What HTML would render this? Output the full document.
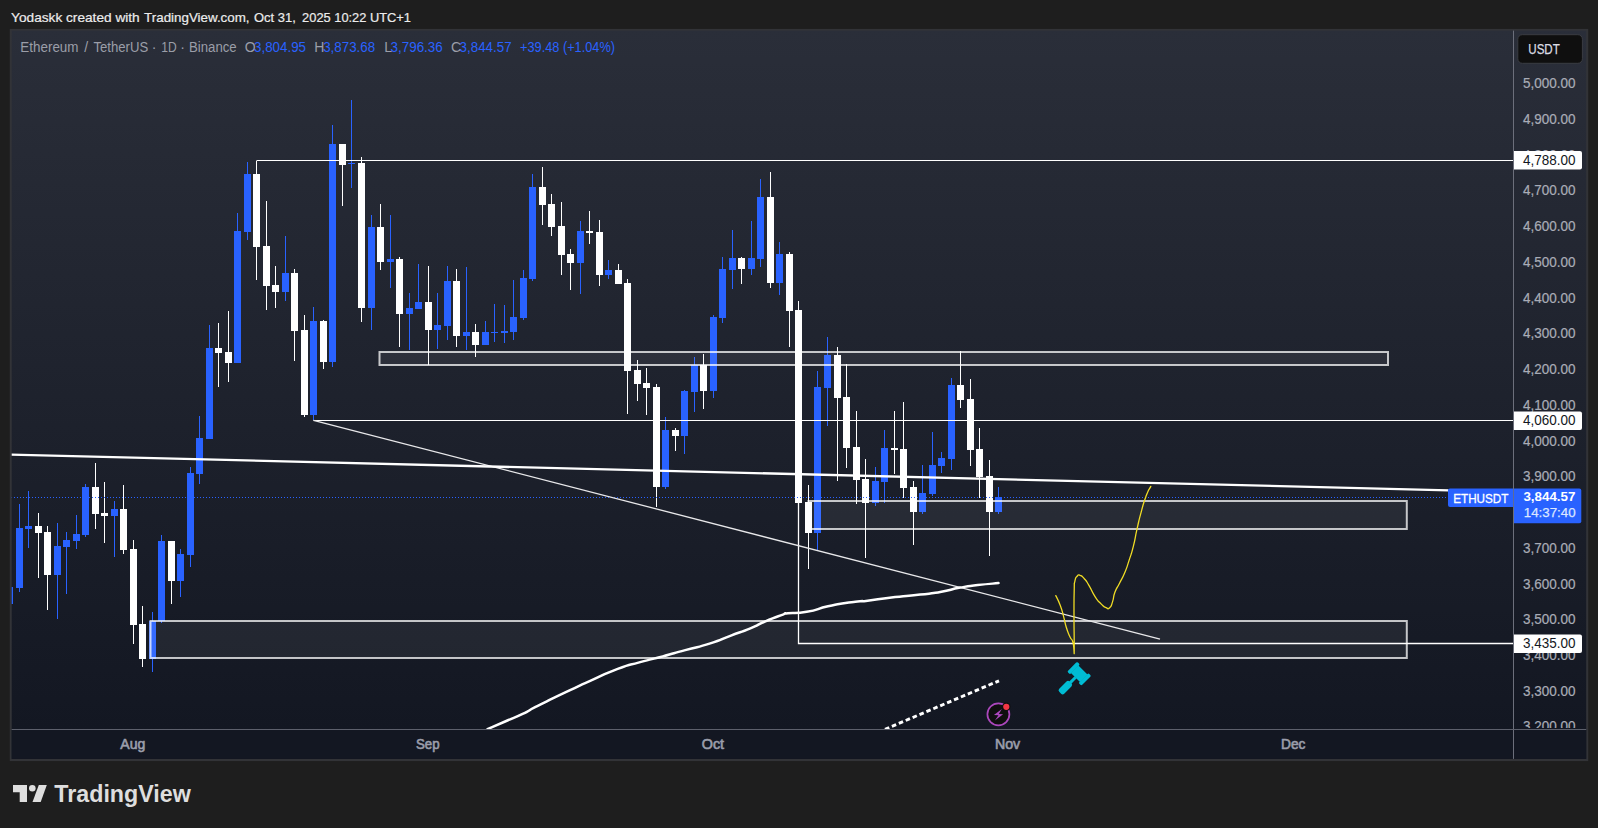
<!DOCTYPE html>
<html lang="en">
<head>
<meta charset="utf-8">
<title>ETHUSDT chart - TradingView snapshot</title>
<style>
html,body{margin:0;padding:0;background:#1e1e1e;}
body{width:1598px;height:828px;overflow:hidden;position:relative;font-family:'Liberation Sans', Arial, sans-serif;}
svg{position:absolute;left:0;top:0;display:block;}
svg text{font-family:'Liberation Sans', Arial, sans-serif;}
</style>
</head>
<body>
<svg width="1598" height="828" viewBox="0 0 1598 828">
<defs>
<linearGradient id="bg" x1="0" y1="30" x2="0" y2="730" gradientUnits="userSpaceOnUse">
<stop offset="0" stop-color="#2a2e39"/><stop offset="1" stop-color="#131722"/>
</linearGradient>
<clipPath id="pane"><rect x="11.7" y="30.6" width="1501.3" height="698.9"/></clipPath>
<clipPath id="paxis"><rect x="1514" y="30.5" width="73" height="697.6"/></clipPath>
</defs>
<rect x="0" y="0" width="1598" height="828" fill="#1e1e1e"/>
<!-- chart frame -->
<rect x="9.8" y="28.9" width="1578.4" height="732.2" fill="#323337"/>
<rect x="11.7" y="30.6" width="1574.5" height="728.3" fill="url(#bg)"/>
<rect x="11.7" y="730" width="1574.5" height="28.9" fill="#131722"/>

<g clip-path="url(#pane)">
<!-- candles -->
<g shape-rendering="crispEdges">
<rect x="9" y="587" width="1" height="17" fill="#2962ff"/><rect x="6" y="587" width="7" height="17" fill="#2962ff"/>
<rect x="19" y="504" width="1" height="88" fill="#2962ff"/><rect x="16" y="528" width="7" height="60" fill="#2962ff"/>
<rect x="28" y="491" width="1" height="57" fill="#2962ff"/><rect x="25" y="526" width="7" height="3" fill="#2962ff"/>
<rect x="38" y="513" width="1" height="65" fill="#ffffff"/><rect x="35" y="526" width="7" height="7" fill="#ffffff"/>
<rect x="47" y="526" width="1" height="84" fill="#ffffff"/><rect x="44" y="532" width="7" height="43" fill="#ffffff"/>
<rect x="57" y="523" width="1" height="96" fill="#2962ff"/><rect x="54" y="546" width="7" height="29" fill="#2962ff"/>
<rect x="66" y="532" width="1" height="62" fill="#2962ff"/><rect x="63" y="540" width="7" height="7" fill="#2962ff"/>
<rect x="76" y="515" width="1" height="34" fill="#2962ff"/><rect x="73" y="534" width="7" height="7" fill="#2962ff"/>
<rect x="85" y="484" width="1" height="53" fill="#2962ff"/><rect x="82" y="487" width="7" height="48" fill="#2962ff"/>
<rect x="95" y="463" width="1" height="66" fill="#ffffff"/><rect x="92" y="487" width="7" height="27" fill="#ffffff"/>
<rect x="104" y="482" width="1" height="61" fill="#ffffff"/><rect x="101" y="513" width="7" height="3" fill="#ffffff"/>
<rect x="114" y="501" width="1" height="56" fill="#2962ff"/><rect x="111" y="509" width="7" height="7" fill="#2962ff"/>
<rect x="123" y="485" width="1" height="69" fill="#ffffff"/><rect x="120" y="509" width="7" height="41" fill="#ffffff"/>
<rect x="133" y="540" width="1" height="104" fill="#ffffff"/><rect x="130" y="549" width="7" height="76" fill="#ffffff"/>
<rect x="142" y="606" width="1" height="61" fill="#ffffff"/><rect x="139" y="624" width="7" height="35" fill="#ffffff"/>
<rect x="152" y="612" width="1" height="60" fill="#2962ff"/><rect x="149" y="621" width="7" height="38" fill="#2962ff"/>
<rect x="161" y="535" width="1" height="88" fill="#2962ff"/><rect x="158" y="541" width="7" height="80" fill="#2962ff"/>
<rect x="171" y="541" width="1" height="63" fill="#ffffff"/><rect x="168" y="541" width="7" height="40" fill="#ffffff"/>
<rect x="180" y="549" width="1" height="48" fill="#2962ff"/><rect x="177" y="554" width="7" height="27" fill="#2962ff"/>
<rect x="190" y="467" width="1" height="100" fill="#2962ff"/><rect x="187" y="473" width="7" height="82" fill="#2962ff"/>
<rect x="199" y="416" width="1" height="68" fill="#2962ff"/><rect x="196" y="438" width="7" height="36" fill="#2962ff"/>
<rect x="209" y="325" width="1" height="114" fill="#2962ff"/><rect x="206" y="348" width="7" height="91" fill="#2962ff"/>
<rect x="218" y="323" width="1" height="64" fill="#ffffff"/><rect x="215" y="348" width="7" height="5" fill="#ffffff"/>
<rect x="228" y="311" width="1" height="71" fill="#ffffff"/><rect x="225" y="352" width="7" height="11" fill="#ffffff"/>
<rect x="237" y="213" width="1" height="150" fill="#2962ff"/><rect x="234" y="231" width="7" height="132" fill="#2962ff"/>
<rect x="247" y="162" width="1" height="78" fill="#2962ff"/><rect x="244" y="174" width="7" height="58" fill="#2962ff"/>
<rect x="256" y="161" width="1" height="119" fill="#ffffff"/><rect x="253" y="174" width="7" height="73" fill="#ffffff"/>
<rect x="266" y="201" width="1" height="109" fill="#ffffff"/><rect x="263" y="246" width="7" height="40" fill="#ffffff"/>
<rect x="275" y="266" width="1" height="42" fill="#ffffff"/><rect x="272" y="285" width="7" height="7" fill="#ffffff"/>
<rect x="285" y="236" width="1" height="65" fill="#2962ff"/><rect x="282" y="273" width="7" height="19" fill="#2962ff"/>
<rect x="294" y="269" width="1" height="92" fill="#ffffff"/><rect x="291" y="273" width="7" height="58" fill="#ffffff"/>
<rect x="304" y="315" width="1" height="102" fill="#ffffff"/><rect x="301" y="330" width="7" height="85" fill="#ffffff"/>
<rect x="313" y="307" width="1" height="113" fill="#2962ff"/><rect x="310" y="321" width="7" height="94" fill="#2962ff"/>
<rect x="323" y="320" width="1" height="49" fill="#ffffff"/><rect x="320" y="321" width="7" height="41" fill="#ffffff"/>
<rect x="332" y="125" width="1" height="242" fill="#2962ff"/><rect x="329" y="144" width="7" height="218" fill="#2962ff"/>
<rect x="342" y="144" width="1" height="62" fill="#ffffff"/><rect x="339" y="144" width="7" height="21" fill="#ffffff"/>
<rect x="351" y="100" width="1" height="88" fill="#2962ff"/><rect x="348" y="163" width="7" height="1" fill="#2962ff"/>
<rect x="361" y="157" width="1" height="165" fill="#ffffff"/><rect x="358" y="163" width="7" height="145" fill="#ffffff"/>
<rect x="371" y="215" width="1" height="115" fill="#2962ff"/><rect x="368" y="227" width="7" height="81" fill="#2962ff"/>
<rect x="380" y="204" width="1" height="66" fill="#ffffff"/><rect x="377" y="227" width="7" height="35" fill="#ffffff"/>
<rect x="390" y="215" width="1" height="73" fill="#2962ff"/><rect x="387" y="259" width="7" height="3" fill="#2962ff"/>
<rect x="399" y="257" width="1" height="90" fill="#ffffff"/><rect x="396" y="259" width="7" height="55" fill="#ffffff"/>
<rect x="409" y="293" width="1" height="57" fill="#2962ff"/><rect x="406" y="308" width="7" height="6" fill="#2962ff"/>
<rect x="418" y="264" width="1" height="45" fill="#2962ff"/><rect x="415" y="302" width="7" height="7" fill="#2962ff"/>
<rect x="428" y="266" width="1" height="99" fill="#ffffff"/><rect x="425" y="302" width="7" height="28" fill="#ffffff"/>
<rect x="437" y="293" width="1" height="56" fill="#2962ff"/><rect x="434" y="325" width="7" height="5" fill="#2962ff"/>
<rect x="447" y="266" width="1" height="74" fill="#2962ff"/><rect x="444" y="281" width="7" height="45" fill="#2962ff"/>
<rect x="456" y="269" width="1" height="78" fill="#ffffff"/><rect x="453" y="281" width="7" height="55" fill="#ffffff"/>
<rect x="466" y="267" width="1" height="83" fill="#2962ff"/><rect x="463" y="332" width="7" height="4" fill="#2962ff"/>
<rect x="475" y="324" width="1" height="33" fill="#ffffff"/><rect x="472" y="332" width="7" height="13" fill="#ffffff"/>
<rect x="485" y="321" width="1" height="24" fill="#2962ff"/><rect x="482" y="332" width="7" height="13" fill="#2962ff"/>
<rect x="494" y="304" width="1" height="38" fill="#2962ff"/><rect x="491" y="332" width="7" height="1" fill="#2962ff"/>
<rect x="504" y="305" width="1" height="38" fill="#2962ff"/><rect x="501" y="331" width="7" height="2" fill="#2962ff"/>
<rect x="513" y="280" width="1" height="60" fill="#2962ff"/><rect x="510" y="317" width="7" height="15" fill="#2962ff"/>
<rect x="523" y="270" width="1" height="50" fill="#2962ff"/><rect x="520" y="278" width="7" height="40" fill="#2962ff"/>
<rect x="532" y="174" width="1" height="107" fill="#2962ff"/><rect x="529" y="187" width="7" height="92" fill="#2962ff"/>
<rect x="542" y="167" width="1" height="58" fill="#ffffff"/><rect x="539" y="187" width="7" height="18" fill="#ffffff"/>
<rect x="551" y="194" width="1" height="42" fill="#ffffff"/><rect x="548" y="204" width="7" height="23" fill="#ffffff"/>
<rect x="561" y="202" width="1" height="73" fill="#ffffff"/><rect x="558" y="226" width="7" height="29" fill="#ffffff"/>
<rect x="570" y="249" width="1" height="41" fill="#ffffff"/><rect x="567" y="254" width="7" height="9" fill="#ffffff"/>
<rect x="580" y="221" width="1" height="73" fill="#2962ff"/><rect x="577" y="231" width="7" height="32" fill="#2962ff"/>
<rect x="589" y="211" width="1" height="33" fill="#ffffff"/><rect x="586" y="231" width="7" height="2" fill="#ffffff"/>
<rect x="599" y="220" width="1" height="66" fill="#ffffff"/><rect x="596" y="232" width="7" height="43" fill="#ffffff"/>
<rect x="608" y="260" width="1" height="19" fill="#2962ff"/><rect x="605" y="270" width="7" height="5" fill="#2962ff"/>
<rect x="618" y="264" width="1" height="20" fill="#ffffff"/><rect x="615" y="270" width="7" height="14" fill="#ffffff"/>
<rect x="627" y="279" width="1" height="135" fill="#ffffff"/><rect x="624" y="283" width="7" height="88" fill="#ffffff"/>
<rect x="637" y="360" width="1" height="41" fill="#ffffff"/><rect x="634" y="370" width="7" height="14" fill="#ffffff"/>
<rect x="646" y="368" width="1" height="47" fill="#ffffff"/><rect x="643" y="383" width="7" height="5" fill="#ffffff"/>
<rect x="656" y="384" width="1" height="123" fill="#ffffff"/><rect x="653" y="387" width="7" height="100" fill="#ffffff"/>
<rect x="665" y="417" width="1" height="72" fill="#2962ff"/><rect x="662" y="430" width="7" height="57" fill="#2962ff"/>
<rect x="675" y="428" width="1" height="23" fill="#ffffff"/><rect x="672" y="430" width="7" height="6" fill="#ffffff"/>
<rect x="684" y="390" width="1" height="64" fill="#2962ff"/><rect x="681" y="391" width="7" height="45" fill="#2962ff"/>
<rect x="694" y="357" width="1" height="55" fill="#2962ff"/><rect x="691" y="365" width="7" height="27" fill="#2962ff"/>
<rect x="703" y="354" width="1" height="55" fill="#ffffff"/><rect x="700" y="365" width="7" height="26" fill="#ffffff"/>
<rect x="713" y="315" width="1" height="83" fill="#2962ff"/><rect x="710" y="317" width="7" height="74" fill="#2962ff"/>
<rect x="722" y="257" width="1" height="66" fill="#2962ff"/><rect x="719" y="269" width="7" height="49" fill="#2962ff"/>
<rect x="732" y="230" width="1" height="59" fill="#2962ff"/><rect x="729" y="258" width="7" height="12" fill="#2962ff"/>
<rect x="741" y="257" width="1" height="27" fill="#ffffff"/><rect x="738" y="258" width="7" height="11" fill="#ffffff"/>
<rect x="751" y="221" width="1" height="54" fill="#2962ff"/><rect x="748" y="258" width="7" height="11" fill="#2962ff"/>
<rect x="760" y="179" width="1" height="88" fill="#2962ff"/><rect x="757" y="197" width="7" height="62" fill="#2962ff"/>
<rect x="770" y="172" width="1" height="116" fill="#ffffff"/><rect x="767" y="197" width="7" height="86" fill="#ffffff"/>
<rect x="779" y="242" width="1" height="53" fill="#2962ff"/><rect x="776" y="254" width="7" height="29" fill="#2962ff"/>
<rect x="789" y="252" width="1" height="95" fill="#ffffff"/><rect x="786" y="254" width="7" height="57" fill="#ffffff"/>
<rect x="798" y="301" width="1" height="342" fill="#ffffff"/><rect x="795" y="310" width="7" height="193" fill="#ffffff"/>
<rect x="808" y="485" width="1" height="84" fill="#ffffff"/><rect x="805" y="502" width="7" height="31" fill="#ffffff"/>
<rect x="817" y="371" width="1" height="179" fill="#2962ff"/><rect x="814" y="387" width="7" height="146" fill="#2962ff"/>
<rect x="827" y="337" width="1" height="89" fill="#2962ff"/><rect x="824" y="355" width="7" height="33" fill="#2962ff"/>
<rect x="837" y="347" width="1" height="134" fill="#ffffff"/><rect x="834" y="355" width="7" height="43" fill="#ffffff"/>
<rect x="846" y="364" width="1" height="104" fill="#ffffff"/><rect x="843" y="397" width="7" height="51" fill="#ffffff"/>
<rect x="856" y="411" width="1" height="93" fill="#ffffff"/><rect x="853" y="447" width="7" height="33" fill="#ffffff"/>
<rect x="865" y="459" width="1" height="99" fill="#ffffff"/><rect x="862" y="479" width="7" height="24" fill="#ffffff"/>
<rect x="875" y="467" width="1" height="39" fill="#2962ff"/><rect x="872" y="481" width="7" height="22" fill="#2962ff"/>
<rect x="884" y="430" width="1" height="73" fill="#2962ff"/><rect x="881" y="448" width="7" height="34" fill="#2962ff"/>
<rect x="894" y="411" width="1" height="63" fill="#ffffff"/><rect x="891" y="448" width="7" height="2" fill="#ffffff"/>
<rect x="903" y="402" width="1" height="96" fill="#ffffff"/><rect x="900" y="449" width="7" height="39" fill="#ffffff"/>
<rect x="913" y="481" width="1" height="64" fill="#ffffff"/><rect x="910" y="487" width="7" height="25" fill="#ffffff"/>
<rect x="922" y="465" width="1" height="49" fill="#2962ff"/><rect x="919" y="493" width="7" height="19" fill="#2962ff"/>
<rect x="932" y="432" width="1" height="64" fill="#2962ff"/><rect x="929" y="465" width="7" height="29" fill="#2962ff"/>
<rect x="941" y="452" width="1" height="21" fill="#2962ff"/><rect x="938" y="458" width="7" height="8" fill="#2962ff"/>
<rect x="951" y="378" width="1" height="92" fill="#2962ff"/><rect x="948" y="385" width="7" height="74" fill="#2962ff"/>
<rect x="960" y="351" width="1" height="57" fill="#ffffff"/><rect x="957" y="385" width="7" height="15" fill="#ffffff"/>
<rect x="970" y="379" width="1" height="87" fill="#ffffff"/><rect x="967" y="399" width="7" height="51" fill="#ffffff"/>
<rect x="979" y="428" width="1" height="70" fill="#ffffff"/><rect x="976" y="449" width="7" height="28" fill="#ffffff"/>
<rect x="989" y="460" width="1" height="96" fill="#ffffff"/><rect x="986" y="476" width="7" height="36" fill="#ffffff"/>
<rect x="998" y="487" width="1" height="27" fill="#2962ff"/><rect x="995" y="497" width="7" height="15" fill="#2962ff"/>
</g>
<!-- price dotted line -->
<line x1="11" y1="497.5" x2="1448" y2="497.5" stroke="#2962ff" stroke-width="1" stroke-dasharray="1 2" shape-rendering="crispEdges"/>
<!-- zones -->
<rect x="379.5" y="352" width="1008.5" height="13" fill="rgba(255,255,255,0.06)" stroke="rgba(255,255,255,0.74)" stroke-width="2"/>
<rect x="808.5" y="501" width="598.3" height="28" fill="rgba(255,255,255,0.06)" stroke="rgba(255,255,255,0.74)" stroke-width="2"/>
<rect x="150.5" y="621" width="1256.3" height="37" fill="rgba(255,255,255,0.06)" stroke="rgba(255,255,255,0.74)" stroke-width="2"/>
<!-- horizontal rays -->
<line x1="256.5" y1="160.5" x2="1513" y2="160.5" stroke="#fff" stroke-width="1.2"/>
<line x1="313.5" y1="420.5" x2="1513" y2="420.5" stroke="#fff" stroke-width="1.2"/>
<path d="M798.5,503 L798.5,643.5 L1513,643.5" fill="none" stroke="#fff" stroke-width="1.3"/>
<!-- trend lines -->
<line x1="313.5" y1="420.3" x2="1160" y2="639.1" stroke="#e8e8ea" stroke-width="1.3"/>
<line x1="11" y1="454.6" x2="1448.5" y2="490.3" stroke="#fff" stroke-width="2.3"/>
<!-- moving average -->
<path d="M487.5,729.2 C493.4,726.6 493.4,726.6 505.1,721.5 C516.8,716.4 512.6,718.7 522.6,713.9 C532.6,709.1 525.9,711.9 535.1,707.2 C544.3,702.5 538.4,705.4 550.1,699.7 C561.8,694.0 556.7,696.5 570.1,690.2 C583.5,683.9 574.3,688.0 590.2,680.9 C606.1,673.8 601.0,675.2 617.7,668.9 C634.4,662.6 625.2,666.3 640.2,662.1 C655.2,657.9 647.8,660.4 662.8,656.4 C677.8,652.4 669.5,654.4 685.3,650.1 C701.1,645.8 695.3,648.2 710.3,643.4 C725.3,638.6 716.9,640.8 730.3,635.8 C743.7,630.8 738.7,633.1 750.4,628.3 C762.1,623.5 754.6,625.9 765.4,621.3 C776.2,616.7 775.4,617.3 782.9,614.6 C790.4,611.9 780.0,614.2 787.9,613.3 C795.8,612.4 793.3,614.1 806.7,611.8 C820.1,609.5 815.1,609.2 828.0,606.3 C840.9,603.4 834.8,604.8 845.5,603.1 C856.2,601.4 852.6,602.1 860.0,601.3 C867.4,600.5 855.9,602.1 867.6,600.7 C879.3,599.3 877.7,599.1 895.2,597.1 C912.7,595.1 905.2,596.3 920.2,594.6 C935.2,592.9 926.8,594.2 940.2,591.9 C953.6,589.6 947.8,589.9 960.3,587.6 C972.8,585.3 965.1,586.6 977.8,585.1 C990.5,583.6 991.6,583.8 998.5,583.1" fill="none" stroke="#fff" stroke-width="2.5" stroke-linejoin="round" stroke-linecap="round"/>
<!-- dashed projection -->
<line x1="885" y1="729.3" x2="999" y2="680.8" stroke="#fff" stroke-width="2.9" stroke-dasharray="4.6 2.9"/>
<!-- yellow drawing -->
<path d="M1055.8,595.6 C1057.3,598.8 1057.5,598.1 1060.2,605.3 C1062.9,612.5 1061.8,610.1 1063.8,617.3 C1065.8,624.5 1064.2,620.5 1066.2,627.0 C1068.2,633.5 1067.6,631.5 1069.9,636.7 C1072.2,641.9 1071.6,637.1 1073.0,642.7 C1074.4,648.3 1073.8,650.0 1074.2,653.6 M1074.2,653.6 C1074.2,648.8 1074.3,652.0 1074.2,639.1 C1074.1,626.2 1074.0,631.0 1074.0,614.9 C1074.0,598.8 1073.9,602.1 1074.2,590.8 C1074.5,579.5 1073.9,585.9 1074.9,581.1 C1075.9,576.3 1075.4,578.2 1077.1,576.3 C1078.8,574.4 1077.6,574.5 1080.0,575.3 C1082.4,576.1 1081.2,575.2 1084.3,578.7 C1087.4,582.2 1085.6,579.9 1089.2,585.9 C1092.8,591.9 1091.2,590.7 1095.2,596.8 C1099.2,602.9 1097.7,600.5 1101.3,604.1 C1104.9,607.7 1103.3,606.5 1106.1,607.7 C1108.9,608.9 1107.5,609.7 1109.7,607.7 C1111.9,605.7 1110.8,606.8 1112.6,601.6 C1114.4,596.4 1112.7,598.0 1115.0,592.0 C1117.3,586.0 1116.2,589.9 1119.4,583.5 C1122.6,577.1 1121.5,580.3 1124.7,572.7 C1127.9,565.1 1126.1,569.5 1129.0,560.6 C1131.9,551.7 1130.7,556.6 1133.4,546.1 C1136.1,535.6 1134.4,540.5 1137.0,529.2 C1139.6,517.9 1138.1,523.2 1141.1,512.3 C1144.1,501.4 1142.7,505.2 1145.9,496.6 C1149.1,488.0 1149.2,489.8 1150.8,486.4" fill="none" stroke="#f0dc25" stroke-width="1.3" stroke-linejoin="round" stroke-linecap="round"/>
<!-- gavel icon -->
<g transform="translate(1079.2 673.7) rotate(45)" fill="#00bcd4">
<rect x="-6.4" y="-5.3" width="12.8" height="10.6"/>
<rect x="-10" y="-7" width="4" height="14" rx="1.3"/>
<rect x="6" y="-7" width="4" height="14" rx="1.3"/>
<rect x="-1.5" y="5" width="3" height="9"/>
<rect x="-3.5" y="12.3" width="7" height="14.6" rx="2.2"/>
</g>
<!-- event icon -->
<circle cx="998.4" cy="714.3" r="11" fill="#0f0f0f" stroke="#ab47bc" stroke-width="1.7"/>
<path d="M1001.9,709 L993.9,714.9 L998.5,715.2 L994.9,720.4 L1003.1,714.3 L998.8,714 Z" fill="#ab47bc"/>
<circle cx="1006.3" cy="706.8" r="4.2" fill="#0f0f0f"/>
<circle cx="1006.3" cy="706.8" r="3.1" fill="#f23645"/>
</g>

<!-- axis lines -->
<rect x="1513" y="30.6" width="1" height="728.3" fill="#6c6f7b"/>
<rect x="11.7" y="729" width="1574.5" height="1" fill="#5d606c"/>

<!-- price axis labels -->
<g clip-path="url(#paxis)" font-size="14.5" fill="#a9acb6" stroke="#a9acb6" stroke-width="0.2">
<text x="1523" y="88.2" textLength="52.5" lengthAdjust="spacingAndGlyphs">5,000.00</text>
<text x="1523" y="123.9" textLength="52.5" lengthAdjust="spacingAndGlyphs">4,900.00</text>
<text x="1523" y="159.7" textLength="52.5" lengthAdjust="spacingAndGlyphs">4,800.00</text>
<text x="1523" y="195.4" textLength="52.5" lengthAdjust="spacingAndGlyphs">4,700.00</text>
<text x="1523" y="231.1" textLength="52.5" lengthAdjust="spacingAndGlyphs">4,600.00</text>
<text x="1523" y="266.9" textLength="52.5" lengthAdjust="spacingAndGlyphs">4,500.00</text>
<text x="1523" y="302.6" textLength="52.5" lengthAdjust="spacingAndGlyphs">4,400.00</text>
<text x="1523" y="338.3" textLength="52.5" lengthAdjust="spacingAndGlyphs">4,300.00</text>
<text x="1523" y="374.1" textLength="52.5" lengthAdjust="spacingAndGlyphs">4,200.00</text>
<text x="1523" y="409.8" textLength="52.5" lengthAdjust="spacingAndGlyphs">4,100.00</text>
<text x="1523" y="445.6" textLength="52.5" lengthAdjust="spacingAndGlyphs">4,000.00</text>
<text x="1523" y="481.3" textLength="52.5" lengthAdjust="spacingAndGlyphs">3,900.00</text>
<text x="1523" y="517.0" textLength="52.5" lengthAdjust="spacingAndGlyphs">3,800.00</text>
<text x="1523" y="552.8" textLength="52.5" lengthAdjust="spacingAndGlyphs">3,700.00</text>
<text x="1523" y="588.5" textLength="52.5" lengthAdjust="spacingAndGlyphs">3,600.00</text>
<text x="1523" y="624.2" textLength="52.5" lengthAdjust="spacingAndGlyphs">3,500.00</text>
<text x="1523" y="660.0" textLength="52.5" lengthAdjust="spacingAndGlyphs">3,400.00</text>
<text x="1523" y="695.7" textLength="52.5" lengthAdjust="spacingAndGlyphs">3,300.00</text>
<text x="1523" y="731.4" textLength="52.5" lengthAdjust="spacingAndGlyphs">3,200.00</text>
</g>

<!-- USDT button -->
<rect x="1517.8" y="34.7" width="64.6" height="28.6" rx="4.5" fill="#0f0f0f" stroke="#3a3c42" stroke-width="1"/>
<text x="1528.3" y="53.8" font-size="14.6" fill="#dcdee3" stroke="#dcdee3" stroke-width="0.25" textLength="31.5" lengthAdjust="spacingAndGlyphs">USDT</text>

<!-- price tags -->
<path d="M1514,151 H1580 a2,2 0 0 1 2,2 V167.5 a2,2 0 0 1 -2,2 H1514 Z" fill="#fff"/>
<text x="1523" y="164.7" font-size="14.5" fill="#131722" textLength="52.5" lengthAdjust="spacingAndGlyphs">4,788.00</text>
<path d="M1514,411.5 H1580 a2,2 0 0 1 2,2 V428 a2,2 0 0 1 -2,2 H1514 Z" fill="#fff"/>
<text x="1523" y="425.1" font-size="14.5" fill="#131722" textLength="52.5" lengthAdjust="spacingAndGlyphs">4,060.00</text>
<path d="M1514,634.5 H1580 a2,2 0 0 1 2,2 V651 a2,2 0 0 1 -2,2 H1514 Z" fill="#fff"/>
<text x="1523" y="647.7" font-size="14.5" fill="#131722" textLength="52.5" lengthAdjust="spacingAndGlyphs">3,435.00</text>

<path d="M1450,488.5 H1513.2 V507 H1450 a2,2 0 0 1 -2,-2 V490.5 a2,2 0 0 1 2,-2 Z" fill="#2962ff"/>
<text x="1453.2" y="502.9" font-size="13.5" fill="#fff" stroke="#fff" stroke-width="0.3" textLength="55.2" lengthAdjust="spacingAndGlyphs">ETHUSDT</text>
<path d="M1514,488.5 H1579.3 a2,2 0 0 1 2,2 V521.2 a2,2 0 0 1 -2,2 H1514 Z" fill="#2962ff"/>
<text x="1523.4" y="501" font-size="13.5" font-weight="bold" fill="#fff" textLength="52" lengthAdjust="spacingAndGlyphs">3,844.57</text>
<text x="1523.8" y="517.4" font-size="13.5" fill="#dde6ff" stroke="#dde6ff" stroke-width="0.25" textLength="51.8" lengthAdjust="spacingAndGlyphs">14:37:40</text>

<!-- time axis labels -->
<g font-size="13.8" fill="#9b9eab" stroke="#9b9eab" stroke-width="0.6">
<text x="120.3" y="749" textLength="25" lengthAdjust="spacingAndGlyphs">Aug</text>
<text x="416" y="749" textLength="23.6" lengthAdjust="spacingAndGlyphs">Sep</text>
<text x="701.8" y="749" textLength="22.3" lengthAdjust="spacingAndGlyphs">Oct</text>
<text x="995" y="749" textLength="25.2" lengthAdjust="spacingAndGlyphs">Nov</text>
<text x="1281" y="749" textLength="24.4" lengthAdjust="spacingAndGlyphs">Dec</text>
</g>

<!-- legend -->
<g font-size="14">
<text x="20.3" y="52" fill="#9b9ea8" textLength="58.2" lengthAdjust="spacingAndGlyphs">Ethereum</text>
<text x="86.1" y="52" fill="#9b9ea8" text-anchor="middle">/</text>
<text x="93.5" y="52" fill="#9b9ea8" textLength="54.7" lengthAdjust="spacingAndGlyphs">TetherUS</text>
<text x="154.2" y="52" fill="#9b9ea8" text-anchor="middle">·</text>
<text x="161.2" y="52" fill="#9b9ea8" textLength="15.4" lengthAdjust="spacingAndGlyphs">1D</text>
<text x="182.6" y="52" fill="#9b9ea8" text-anchor="middle">·</text>
<text x="189.0" y="52" fill="#9b9ea8" textLength="47.7" lengthAdjust="spacingAndGlyphs">Binance</text>
<text x="244.8" y="52" fill="#9b9ea8">O</text>
<text x="254" y="52" fill="#2962ff" textLength="52" lengthAdjust="spacingAndGlyphs">3,804.95</text>
<text x="314.3" y="52" fill="#9b9ea8">H</text>
<text x="323.2" y="52" fill="#2962ff" textLength="52" lengthAdjust="spacingAndGlyphs">3,873.68</text>
<text x="384.2" y="52" fill="#9b9ea8">L</text>
<text x="390.5" y="52" fill="#2962ff" textLength="52.3" lengthAdjust="spacingAndGlyphs">3,796.36</text>
<text x="451" y="52" fill="#9b9ea8">C</text>
<text x="459.6" y="52" fill="#2962ff" textLength="52" lengthAdjust="spacingAndGlyphs">3,844.57</text>
<text x="520" y="52" fill="#2962ff" textLength="95" lengthAdjust="spacingAndGlyphs">+39.48 (+1.04%)</text>
</g>

<!-- header -->
<g font-size="13" fill="#ececec" stroke="#ececec" stroke-width="0.2">
<text x="11.1" y="21.6" textLength="128.6" lengthAdjust="spacingAndGlyphs">Yodaskk created with</text>
<text x="144.1" y="21.6" textLength="105.5" lengthAdjust="spacingAndGlyphs">TradingView.com,</text>
<text x="254.0" y="21.6" textLength="41.8" lengthAdjust="spacingAndGlyphs">Oct 31,</text>
<text x="302.1" y="21.6" textLength="108.9" lengthAdjust="spacingAndGlyphs">2025 10:22 UTC+1</text>
</g>

<!-- footer logo -->
<g fill="#dedede">
<path d="M13,785 H27 V802 H19.7 V792.2 H13 Z"/>
<circle cx="32.3" cy="788.3" r="3.3"/>
<path d="M38.8,785 H46.8 L40.7,802 H32.5 Z"/>
<text x="54.3" y="802" font-size="24.6" font-weight="bold" textLength="136.5" lengthAdjust="spacingAndGlyphs">TradingView</text>
</g>
</svg>
</body>
</html>
